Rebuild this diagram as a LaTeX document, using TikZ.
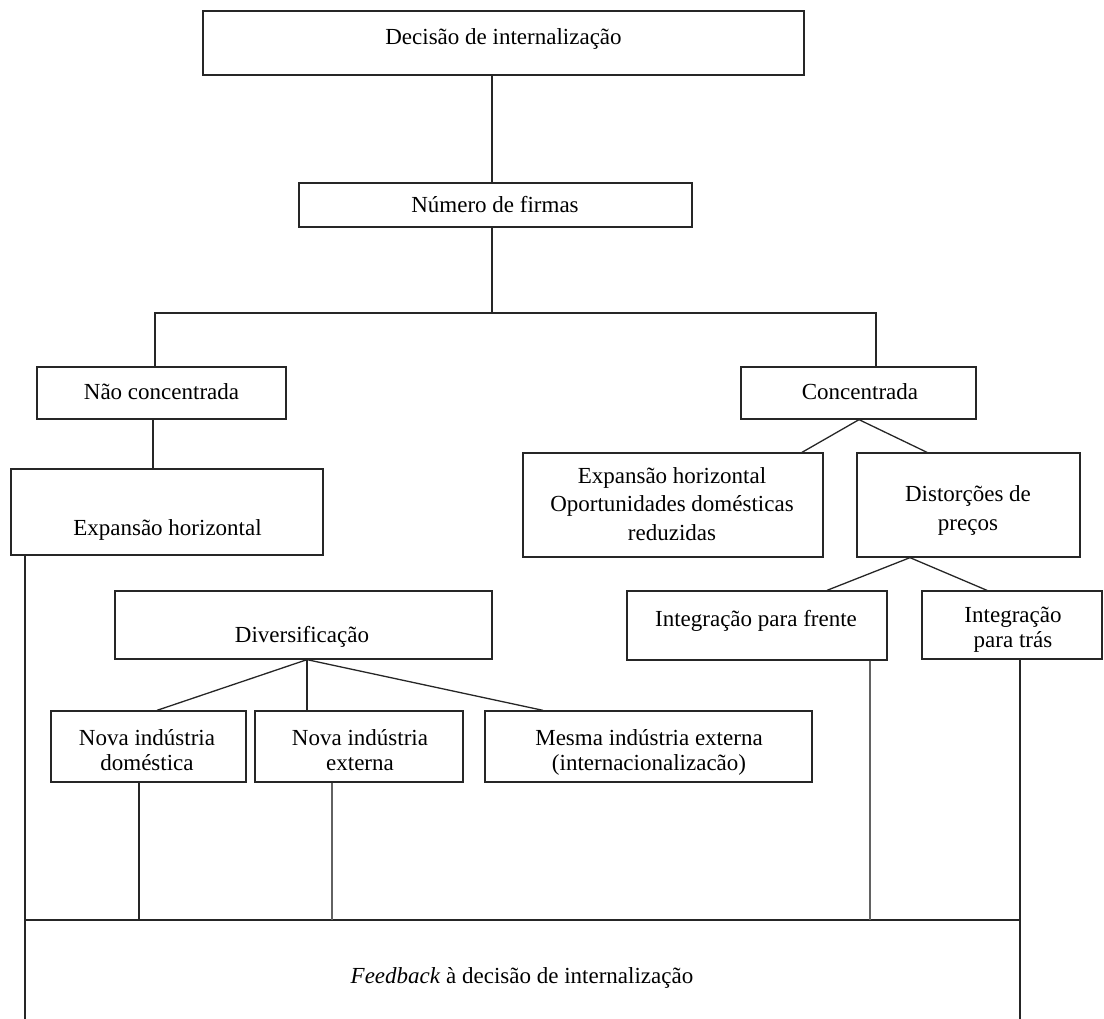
\documentclass[tikz,border=0pt]{standalone}
\usepackage{fontspec}
\setmainfont{Liberation Serif}
\usepackage{array}
\definecolor{linec}{HTML}{262626}
\definecolor{lgray}{HTML}{626262}
\newcommand{\mlines}[1]{\begin{tabular}[t]{@{}c@{}}#1\end{tabular}}
\begin{document}
\begin{tikzpicture}[x=1pt,y=-1pt,
  box/.style={draw=linec, line width=1.3pt, inner sep=0pt, rectangle},
  txt/.style={inner sep=0pt, font=\fontsize{23}{28.5}\selectfont, text=black},
  txtb/.style={inner sep=0pt, font=\fontsize{23}{25.5}\selectfont, text=black},
  conn/.style={draw=linec, line width=1.3pt},
  connb/.style={draw=lgray, line width=1.7pt}]
\useasboundingbox (0,0) rectangle (1104,1019);
% boxes
\node[box, minimum width=601pt, minimum height=64pt] (dec) at (503.5,43) {};
\node[box, minimum width=393pt, minimum height=44pt] (num) at (495.5,205) {};
\node[box, minimum width=249pt, minimum height=52pt] (nao) at (161.5,393) {};
\node[box, minimum width=235pt, minimum height=52pt] (con) at (858.5,393) {};
\node[box, minimum width=312pt, minimum height=86pt] (exh) at (167,512) {};
\node[box, minimum width=300pt, minimum height=104pt] (exo) at (673,505) {};
\node[box, minimum width=223pt, minimum height=104pt] (dis) at (968.5,505) {};
\node[box, minimum width=377pt, minimum height=68pt] (div) at (303.5,625) {};
\node[box, minimum width=260pt, minimum height=69pt] (frt) at (757,625.5) {};
\node[box, minimum width=180pt, minimum height=68pt] (trs) at (1012,625) {};
\node[box, minimum width=195pt, minimum height=71pt] (nd) at (148.5,746.5) {};
\node[box, minimum width=208pt, minimum height=71pt] (ne) at (359,746.5) {};
\node[box, minimum width=327pt, minimum height=71pt] (me) at (648.5,746.5) {};
% texts
\node[txt, anchor=base] (decT) at (503.5,45) {Decisão de internalização};
\node[txt, anchor=base] (numT) at (495,213) {Número de firmas};
\node[txt, anchor=base] (naoT) at (161.5,399) {Não concentrada};
\node[txt, anchor=base] (conT) at (860,399) {Concentrada};
\node[txt, anchor=base] (exhT) at (167.5,535) {Expansão horizontal};
\node[txt, anchor=base] (exoT) at (672,483) {\mlines{Expansão horizontal\\Oportunidades domésticas\\reduzidas}};
\node[txt, anchor=base] (disT) at (968,501.5) {\mlines{Distorções de\\preços}};
\node[txt, anchor=base] (divT) at (302,642) {Diversificação};
\node[txt, anchor=base] (frtT) at (756,626) {Integração para frente};
\node[txtb, anchor=base] (trsT) at (1013,622) {\mlines{Integração\\para trás}};
\node[txtb, anchor=base] (ndT) at (147,745) {\mlines{Nova indústria\\doméstica}};
\node[txtb, anchor=base] (neT) at (360,745) {\mlines{Nova indústria\\externa}};
\node[txtb, anchor=base] (meT) at (649,745) {\mlines{Mesma indústria externa\\(internacionalizacão)}};
\node[txt, anchor=base] (fbT) at (522,983) {\textit{Feedback} à decisão de internalização};
% feedback frame corners
\coordinate (fbtl) at (25,920);
\coordinate (fbtr) at (1020,920);
\coordinate (fbbl) at (25,1019);
\coordinate (fbbr) at (1020,1019);
\coordinate (fork) at (492,313);
% connectors
\draw[conn] (dec.south -| 492,0) -- (num.north -| 492,0);
\draw[conn] (num.south -| 492,0) -- (fork);
\draw[conn] (nao.north -| 155,0) -- (155,313) -- (876,313) -- (con.north -| 876,0);
\draw[conn] (nao.south -| 153,0) -- (exh.north -| 153,0);
\draw[conn] (con.south -| 859,0) -- (exo.north -| 802,0);
\draw[conn] (con.south -| 859,0) -- (dis.north -| 927,0);
\draw[conn] (dis.south -| 910,0) -- (frt.north -| 827,0);
\draw[conn] (dis.south -| 910,0) -- (trs.north -| 987,0);
\draw[conn] (div.south -| 307,0) -- (nd.north -| 157,0);
\draw[conn] (div.south -| 307,0) -- (ne.north -| 307,0);
\draw[conn] (div.south -| 307,0) -- (me.north -| 543,0);
\draw[conn] (exh.south -| 25,0) -- (fbbl);
\draw[conn] (fbtl) -- (fbtr);
\draw[conn] (trs.south -| 1020,0) -- (fbbr);
\draw[conn] (nd.south -| 139,0) -- (fbtl -| 139,0);
\draw[connb] (ne.south -| 332,0) -- (fbtl -| 332,0);
\draw[connb] (frt.south -| 870,0) -- (fbtl -| 870,0);
\end{tikzpicture}
\end{document}
